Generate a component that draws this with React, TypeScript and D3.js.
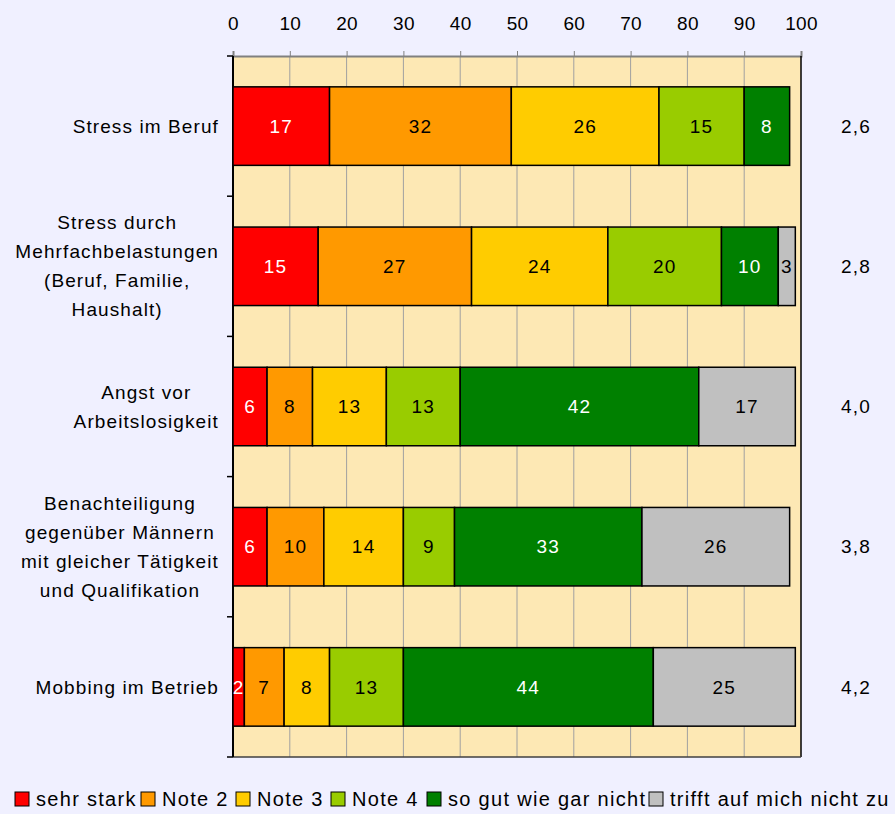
import React, { useEffect, useRef } from "react";
import * as d3 from "d3";

const categories: string[][] = [
  ["Stress im Beruf"],
  ["Stress durch", "Mehrfachbelastungen", "(Beruf, Familie,", "Haushalt)"],
  ["Angst vor", "Arbeitslosigkeit"],
  ["Benachteiligung", "gegenüber Männern", "mit gleicher Tätigkeit", "und Qualifikation"],
  ["Mobbing im Betrieb"],
];
const seriesNames = ["sehr stark", "Note 2", "Note 3", "Note 4", "so gut wie gar nicht", "trifft auf mich nicht zu"];
const seriesColors = ["#FF0000", "#FF9900", "#FFCC00", "#99CC00", "#008000", "#C0C0C0"];
const labelColors = ["#FFFFFF", "#000000", "#000000", "#000000", "#FFFFFF", "#000000"];
const sehrStark = [17, 15, 6, 6, 2];
const note2 = [32, 27, 8, 10, 7];
const note3 = [26, 24, 13, 14, 8];
const note4 = [15, 20, 13, 9, 13];
const soGut = [8, 10, 42, 33, 44];
const trifftNicht = [0, 3, 17, 26, 25];
const averages = ["2,6", "2,8", "4,0", "3,8", "4,2"];
const xTicks = [0, 10, 20, 30, 40, 50, 60, 70, 80, 90, 100];

const W = 895, H = 814;
const FONT = "'Liberation Sans', Arial, sans-serif";
const legendX = [15, 141, 236, 331, 427, 649];

export default function App() {
  const ref = useRef<SVGSVGElement>(null);
  useEffect(() => {
    const svg = d3.select(ref.current!);
    svg.selectAll("*").remove();
    const left = 233, right = 801, top = 56, bottom = 757;
    const x = d3.scaleLinear().domain([0, 100]).range([left, right]);
    const y = d3.scaleBand<number>().domain(d3.range(categories.length)).range([top, bottom]).paddingInner(0.44).paddingOuter(0.22);
    const series = [sehrStark, note2, note3, note4, soGut, trifftNicht];

    svg.append("rect").attr("width", W).attr("height", H).attr("fill", "#F0F0FF");
    svg.append("rect").attr("x", left).attr("y", top).attr("width", right - left).attr("height", bottom - top).attr("fill", "#FDE8B4");

    // gridlines
    svg.selectAll("line.grid").data(xTicks.slice(1, -1)).enter().append("line")
      .attr("x1", (d) => x(d)).attr("x2", (d) => x(d)).attr("y1", top).attr("y2", bottom)
      .attr("stroke", "#A0A0A0").attr("stroke-width", 1);

    // top axis
    const axis = d3.axisTop(x).tickValues(xTicks).tickSize(5).tickPadding(21).tickFormat(d3.format("d"));
    const g = svg.append("g").attr("transform", `translate(0,${top})`).call(axis);
    g.select(".domain").attr("stroke", "#808080").attr("stroke-width", 2);
    g.selectAll(".tick line").attr("stroke", "#808080");
    g.selectAll(".tick text").attr("font-family", FONT).attr("font-size", 19).attr("letter-spacing", 0.3).attr("fill", "#000");

    // borders
    svg.append("line").attr("x1", right).attr("x2", right).attr("y1", top).attr("y2", bottom).attr("stroke", "#000").attr("stroke-width", 1.5);
    svg.append("line").attr("x1", left).attr("x2", right).attr("y1", bottom).attr("y2", bottom).attr("stroke", "#404040").attr("stroke-width", 1.5);
    svg.append("line").attr("x1", left).attr("x2", left).attr("y1", top).attr("y2", bottom).attr("stroke", "#000").attr("stroke-width", 2);
    const bandStep = (bottom - top) / categories.length;
    for (let i = 0; i <= categories.length; i++) {
      svg.append("line").attr("x1", left - 6).attr("x2", left).attr("y1", top + i * bandStep).attr("y2", top + i * bandStep).attr("stroke", "#000").attr("stroke-width", 1.5);
    }

    // bars
    categories.forEach((_, ci) => {
      let cum = 0;
      series.forEach((s, si) => {
        const v = s[ci];
        if (v <= 0) return;
        const x0 = x(cum), x1 = x(cum + v);
        cum += v;
        svg.append("rect").attr("x", x0).attr("y", y(ci)!).attr("width", x1 - x0).attr("height", y.bandwidth())
          .attr("fill", seriesColors[si]).attr("stroke", "#000").attr("stroke-width", 1.5);
      });
      cum = 0;
      series.forEach((s, si) => {
        const v = s[ci];
        if (v <= 0) return;
        const cx = x(cum + v / 2);
        cum += v;
        svg.append("text").attr("x", cx).attr("y", y(ci)! + y.bandwidth() / 2).attr("dy", "0.35em")
          .attr("text-anchor", "middle").attr("font-family", FONT).attr("font-size", 19).attr("letter-spacing", 1.2)
          .attr("fill", labelColors[si]).text(String(v));
      });
      // average
      svg.append("text").attr("x", 856).attr("y", y(ci)! + y.bandwidth() / 2).attr("dy", "0.35em")
        .attr("text-anchor", "middle").attr("font-family", FONT).attr("font-size", 19).attr("letter-spacing", 1.2)
        .attr("fill", "#000").text(averages[ci]);
    });

    // category labels: centered block, right aligned at 219
    categories.forEach((lines, ci) => {
      const cy = y(ci)! + y.bandwidth() / 2;
      const lh = 29;
      const gEl = svg.append("g");
      const texts = lines.map((ln, li) =>
        gEl.append("text").attr("y", cy + (li - (lines.length - 1) / 2) * lh).attr("dy", "0.35em")
          .attr("text-anchor", "middle").attr("font-family", FONT).attr("font-size", 19).attr("letter-spacing", 1.1)
          .attr("fill", "#000").text(ln)
      );
      const widths = texts.map((t) => (t.node() as SVGTextElement).getComputedTextLength());
      const maxW = Math.max(...widths);
      const center = 219 - maxW / 2;
      texts.forEach((t) => t.attr("x", center));
    });

    // legend
    const ly = 799;
    seriesNames.forEach((name, i) => {
      const lx = legendX[i];
      svg.append("rect").attr("x", lx).attr("y", ly - 7).attr("width", 14).attr("height", 14)
        .attr("fill", seriesColors[i]).attr("stroke", "#000").attr("stroke-width", 1);
      svg.append("text").attr("x", lx + 21).attr("y", ly).attr("dy", "0.35em")
        .attr("font-family", FONT).attr("font-size", 20).attr("letter-spacing", 1.3).attr("fill", "#000").text(name);
    });
  }, []);
  return <svg ref={ref} width={W} height={H} style={{ position: "absolute", left: 0, top: 0 }} />;
}
